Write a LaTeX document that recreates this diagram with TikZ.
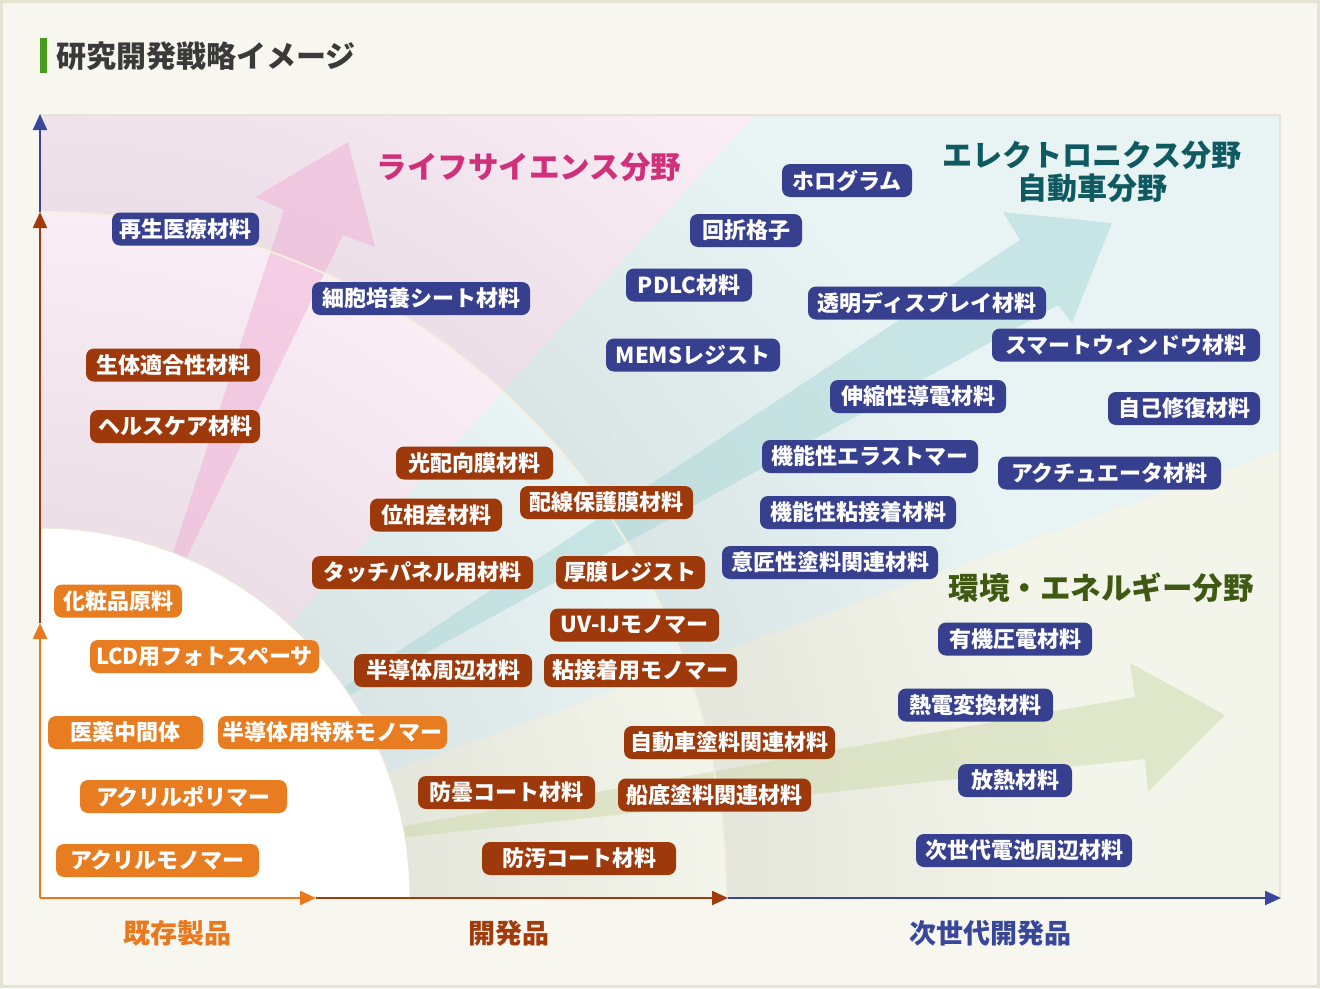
\documentclass[tikz,border=0pt]{standalone}
\usepackage{fontspec}
\setmainfont{Noto Sans CJK JP}
\usetikzlibrary{arrows.meta}
\definecolor{bgc}{HTML}{F7F7F0}
\definecolor{framec}{HTML}{E6E3D3}
\definecolor{plotline}{HTML}{E9E4D2}
\definecolor{pinkbg}{HTML}{FBEDF6}
\definecolor{bluebg}{HTML}{E8F3F3}
\definecolor{greenbg}{HTML}{F3F5EA}
\definecolor{boxblue}{HTML}{373F8F}
\definecolor{boxbrown}{HTML}{9E390B}
\definecolor{boxorange}{HTML}{E87C20}
\definecolor{axorange}{HTML}{E8791E}
\definecolor{axbrown}{HTML}{A23A0C}
\definecolor{axblue}{HTML}{39479A}
\definecolor{lifec}{HTML}{D0307A}
\definecolor{elecc}{HTML}{0F5A60}
\definecolor{envc}{HTML}{3E5A12}
\definecolor{titlec}{HTML}{3A3A3A}
\definecolor{barc}{HTML}{4A9A1E}
\definecolor{arrpink}{HTML}{EFA8D0}
\definecolor{arrteal}{HTML}{A8D8D6}
\definecolor{arrgreen}{HTML}{D0DAB0}
\definecolor{arccol}{HTML}{F6F1E0}
\newcommand\drawwedges{%
  \fill[bluebg] (40,115) rectangle (1280,898);
  \fill[pinkbg] (O) -- (40,115) -- (755,115) -- cycle;
  \fill[greenbg] (O) -- (1280,450) -- (1280,898) -- cycle;}
\begin{document}
\begin{tikzpicture}[x=1pt,y=-1pt,
  matbox/.style={rounded corners=8pt, text=white, font=\fontsize{22}{24}\selectfont\bfseries,
    minimum height=33pt, inner xsep=0pt, inner ysep=0pt},
  mblue/.style={matbox, fill=boxblue},
  mbrown/.style={matbox, fill=boxbrown},
  morange/.style={matbox, fill=boxorange},
  axisline/.style={line width=2.2pt, -{Triangle[length=16pt,width=14pt]}},
  axlabel/.style={font=\fontsize{27}{30}\selectfont\bfseries, inner sep=0pt},
  fieldlabel/.style={font=\fontsize{30.5}{33}\selectfont\bfseries, inner sep=0pt, align=center},
  shade layer/.style={black, opacity=0.0055},
]
\useasboundingbox (0,0) rectangle (1320,988);
% page background and frame
\fill[bgc] (0,0) rectangle (1320,988);
\draw[framec, line width=3pt] (1.5,1.5) rectangle (1318.5,986.5);
\coordinate (O) at (40,898);
% plot area
\begin{scope}
  \clip (40,115) rectangle (1280,898);
  \drawwedges
  \foreach \k in {0,...,14}{\pgfmathsetmacro\rr{686+24*\k}\fill[shade layer] (O) circle[radius=\rr pt];}
  \begin{scope}
    \clip (O) circle[radius=686pt];
    \drawwedges
    \foreach \k in {0,...,14}{\pgfmathsetmacro\rr{370+22*\k}\fill[shade layer] (O) circle[radius=\rr pt];}
  \end{scope}
  % translucent field arrows
  \fill[arrpink, opacity=0.45] (161,590) -- (284,210) -- (255,197) -- (348,142) -- (375,247) -- (343,235) -- (171,590) -- cycle;
  \fill[arrteal, opacity=0.5] (317,705) -- (1020,240) -- (1003,212) -- (1112,223) -- (1072,323) -- (1058,305) -- (321,711) -- cycle;
  \fill[arrgreen, opacity=0.55] (370,832) -- (1135,697) -- (1130,663) -- (1225,715) -- (1148,792) -- (1145,759) -- (370,841) -- cycle;
  % white core
  \fill[white] (O) circle[radius=370pt];
  \draw[arccol, line width=2pt, opacity=0.9] (O) circle[radius=686pt];
  \draw[arccol!80!black!20!arccol, line width=1pt] (O) circle[radius=370pt];
\end{scope}
\draw[plotline, line width=2pt] (40,115) -- (1280,115) -- (1280,898);
% title
\fill[barc] (40,38) rectangle (47,73);
\node[anchor=west, font=\fontsize{30}{32}\selectfont\bfseries, text=titlec, inner sep=0pt] (title) at (56,56.5) {研究開発戦略イメージ};
% axes
\coordinate (Y1) at (40,623);
\coordinate (Y2) at (40,212);
\coordinate (Y3) at (40,114);
\coordinate (X1) at (316,898);
\coordinate (X2) at (728,898);
\coordinate (X3) at (1281,898);
\draw[axisline, axblue] (Y2) -- (Y3);
\draw[axisline, axbrown] (Y1) -- (Y2);
\draw[axisline, axorange] (O) -- (Y1);
\draw[axisline, axblue] (X2) -- (X3);
\draw[axisline, axbrown] (X1) -- (X2);
\draw[axisline, axorange] (O) -- (X1);
\node[axlabel, text=axorange] (lab1) at (177,933.5) {既存製品};
\node[axlabel, text=axbrown] (lab2) at (509,933.5) {開発品};
\node[axlabel, text=axblue] (lab3) at (990,933.5) {次世代開発品};
% field labels
\node[fieldlabel, text=lifec] (life) at (529,167) {ライフサイエンス分野};
\node[fieldlabel, text=elecc, font=\fontsize{30}{33}\selectfont\bfseries] (elec) at (1092,155) {エレクトロニクス分野};
\node[fieldlabel, text=elecc, font=\fontsize{30}{33}\selectfont\bfseries] (auto) at (1092,188.5) {自動車分野};
\node[fieldlabel, text=envc] (env) at (1101,587.5) {環境・エネルギー分野};
% blue boxes
\node[mblue, minimum width=147pt] (b1) at (185.5,229) {再生医療材料};
\node[mblue, minimum width=130pt] (b2) at (847,180.5) {ホログラム};
\node[mblue, minimum width=112pt] (b3) at (746,230.5) {回折格子};
\node[mblue, minimum width=126pt] (b4) at (689,285) {PDLC材料};
\node[mblue, minimum width=218pt] (b5) at (421,298.5) {細胞培養シート材料};
\node[mblue, minimum width=238pt] (b6) at (927,303) {透明ディスプレイ材料};
\node[mblue, minimum width=174pt] (b7) at (693,355) {MEMSレジスト};
\node[mblue, minimum width=268pt] (b8) at (1126,345) {スマートウィンドウ材料};
\node[mblue, minimum width=176pt] (b9) at (918,396.5) {伸縮性導電材料};
\node[mblue, minimum width=152pt] (b10) at (1184,408.5) {自己修復材料};
\node[mblue, minimum width=216pt] (b11) at (870,456.5) {機能性エラストマー};
\node[mblue, minimum width=223pt] (b12) at (1109.5,473) {アクチュエータ材料};
\node[mblue, minimum width=196pt] (b13) at (858,512.5) {機能性粘接着材料};
\node[mblue, minimum width=216pt] (b14) at (830,562.5) {意匠性塗料関連材料};
\node[mblue, minimum width=154pt] (b15) at (1015,639) {有機圧電材料};
\node[mblue, minimum width=155pt] (b16) at (975.5,705) {熱電変換材料};
\node[mblue, minimum width=114pt] (b17) at (1015,780.5) {放熱材料};
\node[mblue, minimum width=216pt] (b18) at (1024,850.5) {次世代電池周辺材料};
% brown boxes
\node[mbrown, minimum width=174pt] (r1) at (173,365) {生体適合性材料};
\node[mbrown, minimum width=170pt] (r2) at (175,426.5) {ヘルスケア材料};
\node[mbrown, minimum width=157pt] (r3) at (474.5,463) {光配向膜材料};
\node[mbrown, minimum width=132pt] (r4) at (436,515) {位相差材料};
\node[mbrown, minimum width=173pt] (r5) at (606.5,502.5) {配線保護膜材料};
\node[mbrown, minimum width=221pt] (r6) at (422.5,572.5) {タッチパネル用材料};
\node[mbrown, minimum width=149pt] (r7) at (630.5,572.5) {厚膜レジスト};
\node[mbrown, minimum width=169pt] (r8) at (634.5,625) {UV-IJモノマー};
\node[mbrown, minimum width=178pt] (r9) at (443,670.5) {半導体周辺材料};
\node[mbrown, minimum width=193pt] (r10) at (640.5,670.5) {粘接着用モノマー};
\node[mbrown, minimum width=211pt] (r11) at (729.5,742.5) {自動車塗料関連材料};
\node[mbrown, minimum width=177pt] (r12) at (506.5,792.5) {防曇コート材料};
\node[mbrown, minimum width=193pt] (r13) at (714.5,795) {船底塗料関連材料};
\node[mbrown, minimum width=194pt] (r14) at (579,858.5) {防汚コート材料};
% orange boxes
\node[morange, minimum width=128pt] (o1) at (118,601) {化粧品原料};
\node[morange, minimum width=229pt] (o2) at (204.5,656.5) {LCD用フォトスペーサ};
\node[morange, minimum width=155pt] (o3) at (125.5,732.5) {医薬中間体};
\node[morange, minimum width=229pt] (o4) at (332.5,732.5) {半導体用特殊モノマー};
\node[morange, minimum width=207pt] (o5) at (183.5,796.5) {アクリルポリマー};
\node[morange, minimum width=203pt] (o6) at (157.5,860.5) {アクリルモノマー};
\end{tikzpicture}
\end{document}
